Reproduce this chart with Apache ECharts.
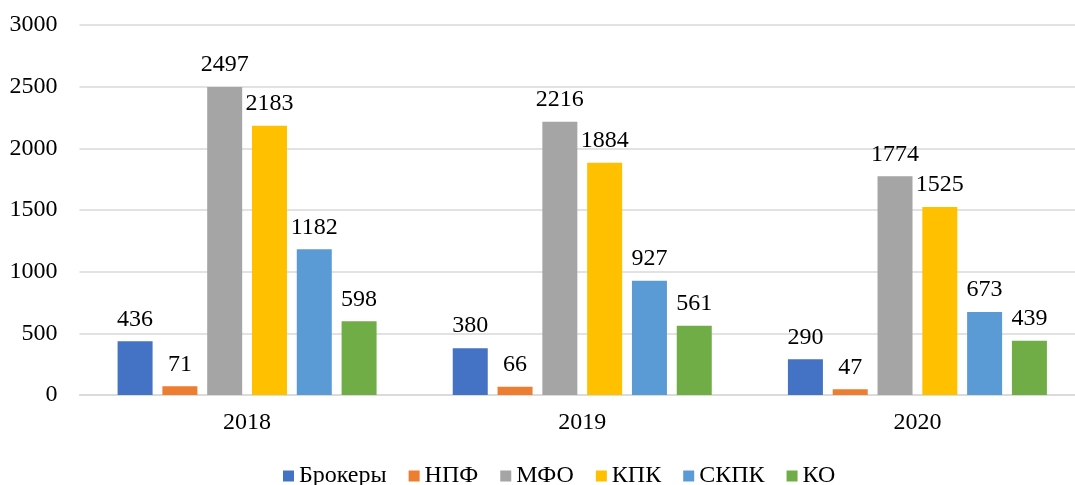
<!DOCTYPE html>
<html>
<head>
<meta charset="utf-8">
<script src="https://cdn.jsdelivr.net/npm/echarts@6/dist/echarts.min.js"></script>
<style>html,body{margin:0;padding:0;background:#fff;overflow:hidden;width:1075px;height:485px;}#c{width:1095px;height:485px;}</style>
</head>
<body>
<div id="c"></div>
<script>
var categories = ['2018', '2019', '2020'];
var seriesNames = ['Брокеры', 'НПФ', 'МФО', 'КПК', 'СКПК', 'КО'];
var brokers = [436, 380, 290];
var npf = [71, 66, 47];
var mfo = [2497, 2216, 1774];
var kpk = [2183, 1884, 1525];
var skpk = [1182, 927, 673];
var ko = [598, 561, 439];
var colors = ['#4472C4', '#ED7D31', '#A5A5A5', '#FFC000', '#5B9BD5', '#70AD47'];

var values = [brokers, npf, mfo, kpk, skpk, ko];
var font = "'Liberation Serif', 'Times New Roman', serif";
var chart = echarts.init(document.getElementById('c'));
chart.setOption({
  animation: false,
  backgroundColor: '#fff',
  textStyle: { fontFamily: font, color: '#000' },
  grid: { left: 79.5, right: 10, top: 25, bottom: 90 },
  legend: {
    bottom: -8, left: 278,
    icon: 'rect', itemWidth: 11, itemHeight: 11, itemGap: 22,
    textStyle: { fontFamily: font, fontSize: 24, color: '#000' },
    data: seriesNames
  },
  xAxis: {
    type: 'category', data: categories,
    axisLine: { lineStyle: { color: '#D9D9D9', width: 1.5 } },
    axisTick: { show: false },
    axisLabel: { fontFamily: font, fontSize: 24, color: '#000', margin: 16 }
  },
  yAxis: {
    type: 'value', min: 0, max: 3000, interval: 500,
    axisLine: { show: false }, axisTick: { show: false },
    splitLine: { lineStyle: { color: '#D9D9D9', width: 1.5 } },
    axisLabel: { fontFamily: font, fontSize: 24, color: '#000', margin: 22, formatter: function (v) { return String(v); } }
  },
  series: seriesNames.map(function (n, i) {
    return {
      name: n, type: 'bar', data: values[i], barWidth: 35, barGap: '28%',
      itemStyle: { color: colors[i] },
      label: { show: true, position: 'top', distance: 10, fontFamily: font, fontSize: 24, color: '#000' }
    };
  })
});
</script>
</body>
</html>
